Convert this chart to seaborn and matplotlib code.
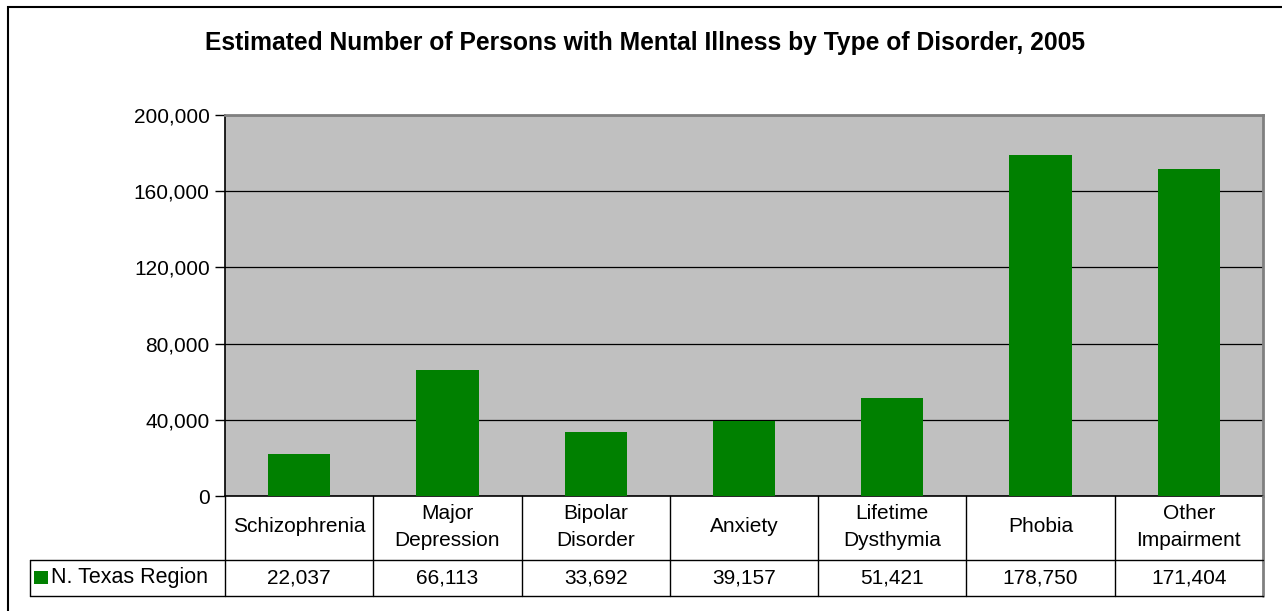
import numpy as np
import pandas as pd
import seaborn as sns
import matplotlib.pyplot as plt
from matplotlib.patches import Rectangle
from matplotlib.lines import Line2D
from matplotlib.transforms import blended_transform_factory

# data
categories = ["Schizophrenia", "Major\nDepression", "Bipolar\nDisorder", "Anxiety",
              "Lifetime\nDysthymia", "Phobia", "Other\nImpairment"]
values = [22037, 66113, 33692, 39157, 51421, 178750, 171404]
series_name = "N. Texas Region"
yticks = [0, 40000, 80000, 120000, 160000, 200000]

df = pd.DataFrame({"category": categories, "value": values})

sns.set_style("white")
plt.rcParams['font.family'] = ['Liberation Sans', 'DejaVu Sans']
plt.rcParams['text.color'] = 'black'
plt.rcParams['ytick.color'] = 'black'
plt.rcParams['ytick.labelcolor'] = 'black'

W, H = 1282, 611
fig = plt.figure(figsize=(W / 100, H / 100), dpi=100)
fig.patch.set_facecolor("white")

def fx(px):
    return px / W

def fy(py):
    return 1 - py / H

ax = fig.add_axes([fx(225), fy(496), fx(1263) - fx(225), fy(115) - fy(496)])
ax.set_facecolor("#C0C0C0")
sns.barplot(data=df, x="category", y="value", color="#008000", saturation=1,
            width=0.42, ax=ax, zorder=3, edgecolor="none", linewidth=0)
ax.set_xlim(-0.5, len(categories) - 0.5)
ax.set_ylim(0, 200000)
ax.set_yticks(yticks)
ax.set_yticklabels([f"{v:,}" for v in yticks], fontsize=15, color="black")
ax.yaxis.grid(True, color="black", lw=0.9, zorder=0)
ax.set_axisbelow(True)
ax.tick_params(axis="y", length=7, width=1, color="black", pad=4, left=True)
ax.tick_params(axis="x", bottom=False, labelbottom=False)
ax.set_xlabel("")
ax.set_ylabel("")
for s in ["top", "right"]:
    ax.spines[s].set_color("#808080")
    ax.spines[s].set_linewidth(2)
for s in ["left", "bottom"]:
    ax.spines[s].set_color("black")
    ax.spines[s].set_linewidth(1.2)

fig.text(fx(645), fy(43), "Estimated Number of Persons with Mental Illness by Type of Disorder, 2005",
         fontsize=17.7, fontweight="bold", ha="center", va="center", color="black")

# outer chart border
fig.add_artist(Rectangle((fx(8), fy(700)), 2, fy(7) - fy(700), fill=False,
                         edgecolor="black", lw=1.5, transform=fig.transFigure))

# data table below the plot
bt = blended_transform_factory(ax.transData, fig.transFigure)
y_top, y_mid, y_bot = fy(496), fy(560), fy(596)
for x in np.arange(len(categories) + 1) - 0.5:
    last = x == len(categories) - 0.5
    fig.add_artist(Line2D([x, x], [y_top, y_bot], color="#808080" if last else "black",
                          lw=2 if last else 1, transform=bt))
for yy in [y_mid, y_bot]:
    fig.add_artist(Line2D([fx(30), fx(1263)], [yy, yy], color="black", lw=1,
                          transform=fig.transFigure))
fig.add_artist(Line2D([fx(30), fx(30)], [y_mid, y_bot], color="black", lw=1,
                      transform=fig.transFigure))

for i, (c, v) in enumerate(zip(categories, values)):
    fig.text(i, fy(527), c, transform=bt, ha="center", va="center",
             fontsize=15, linespacing=1.5)
    fig.text(i, (y_mid + y_bot) / 2, f"{v:,}", transform=bt, ha="center", va="center",
             fontsize=15)

fig.add_artist(Rectangle((fx(34), fy(584)), fx(48) - fx(34), fy(571) - fy(584),
                         facecolor="#008000", edgecolor="none", transform=fig.transFigure))
fig.text(fx(51), (y_mid + y_bot) / 2, series_name, ha="left", va="center", fontsize=15.5)

fig.savefig("out.png", dpi=100)
